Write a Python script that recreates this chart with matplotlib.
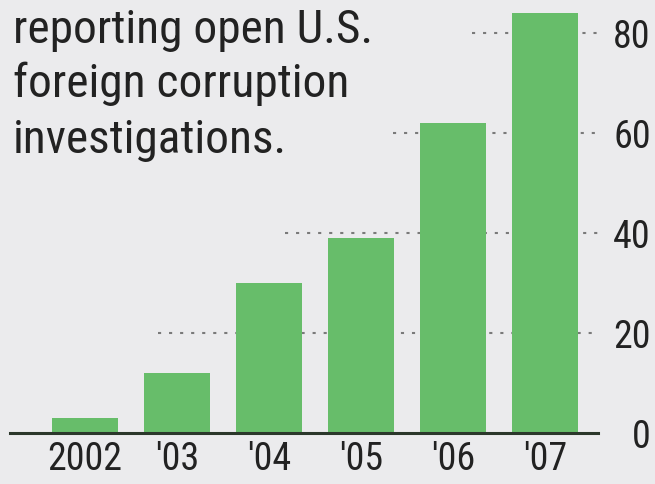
import matplotlib
matplotlib.use("Agg")
import matplotlib.pyplot as plt
from matplotlib import font_manager
from matplotlib.font_manager import FontProperties

years = ["2002", "'03", "'04", "'05", "'06", "'07"]
companies = [3, 12, 30, 39, 62, 84]
grid_values = [20, 40, 60, 80]
grid_starts = [0.79, 2.17, 3.35, 4.21]  # dotted lines begin just left of the bar that tops them
title_lines = ["reporting open U.S.", "foreign corruption", "investigations."]


def condensed_font():
    # prefer a narrow sans face if one is installed, else plain Liberation Sans
    preferred = ["Roboto Condensed", "Liberation Sans Narrow", "Arial Narrow",
                 "Noto Sans Condensed", "Open Sans Condensed", "DejaVu Sans Condensed"]
    found = {}
    for f in font_manager.fontManager.ttflist:
        label = (f.name + " " + str(f.fname)).lower()
        narrow = ("condensed" in label or "narrow" in label
                  or f.stretch in ("condensed", "semi-condensed", 500, 400, 300))
        if not narrow or f.style != "normal" or f.weight not in (400, "normal", "regular"):
            continue
        if "mono" in label or "serif" in label or "bold" in label or "light" in label:
            continue
        if "extra" in label or "ultra" in label or "semi" in label:
            continue
        found.setdefault(f.name, f.fname)
    for name in preferred:
        if name in found:
            return FontProperties(fname=found[name])
    if found:
        return FontProperties(fname=sorted(found.values())[0])
    return FontProperties(family="Liberation Sans")


fp = condensed_font()

bg = "#ebebed"
green = "#67bd6a"
ink = "#222222"

W, H = 655, 484
fig = plt.figure(figsize=(W / 100, H / 100), dpi=100, facecolor=bg)
renderer = fig.canvas.get_renderer()


def fit_size(text, target_px, guess=30):
    t = fig.text(0, 0, text, fontproperties=fp, fontsize=guess)
    w = t.get_window_extent(renderer).width
    t.remove()
    return guess * target_px / w


title_size = fit_size(title_lines[0], 359)
tick_size = fit_size("2002", 75)

ax = fig.add_axes([10 / W, (H - 433) / H, 588 / W, 433 / H])
ax.set_facecolor(bg)

x = list(range(len(years)))
ax.bar(x, companies, width=0.72, color=green, zorder=2)
ax.hlines(grid_values, grid_starts, 5.6, colors="#7a7a7a", linewidth=1.5,
          linestyles=(0, (1.5, 3.8)), zorder=1)

ax.set_xlim(-0.815, 5.576)
ax.set_ylim(0, 86.6)

for side in ["top", "left", "right"]:
    ax.spines[side].set_visible(False)
ax.spines["bottom"].set_color("#2b372b")
ax.spines["bottom"].set_linewidth(2.2)
ax.spines["bottom"].set_zorder(3)

ax.set_xticks(x)
ax.set_xticklabels(years, fontproperties=fp)
ax.tick_params(axis="x", length=0, pad=6, labelcolor=ink)
for lab in ax.get_xticklabels():
    lab.set_fontsize(tick_size)

ax.yaxis.tick_right()
ax.set_yticks([0] + grid_values)
ax.set_yticklabels([str(v) for v in [0] + grid_values], fontproperties=fp)
ax.tick_params(axis="y", length=0, pad=38, labelcolor=ink)
for lab in ax.get_yticklabels():
    lab.set_fontsize(tick_size)
    lab.set_horizontalalignment("right")

for i, line in enumerate(title_lines):
    fig.text(13 / W, 1 - [43, 97, 153][i] / H, line, fontproperties=fp,
             fontsize=title_size, color=ink, ha="left", va="baseline")

fig.savefig("out.png", dpi=100, facecolor=bg)
